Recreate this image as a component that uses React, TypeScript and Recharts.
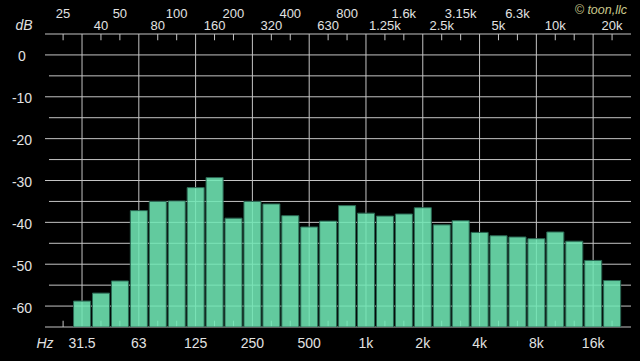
import React from 'react';
import { BarChart, Bar, XAxis, YAxis, ReferenceLine } from 'recharts';

// 1/3-octave bands, 25 Hz .. 20 kHz
const bands = ['25', '31.5', '40', '50', '63', '80', '100', '125', '160', '200', '250', '315', '400', '500', '630', '800',
  '1k', '1.25k', '1.6k', '2k', '2.5k', '3.15k', '4k', '5k', '6.3k', '8k', '10k', '12.5k', '16k', '20k'];

// level per band in dB (25 Hz is below the floor)
const levels: (number | null)[] = [null, -58.8, -56.9, -54.0, -37.2, -35.0, -34.9, -31.7, -29.3, -39.0, -35.0, -35.6, -38.4,
  -41.1, -39.7, -36.0, -37.8, -38.5, -38.0, -36.5, -40.6, -39.6, -42.4, -43.2, -43.5, -43.9, -42.3, -44.5, -49.1, -53.9];

// labels along the top, two staggered rows
const topRowA = ['25', '50', '100', '200', '400', '800', '1.6k', '3.15k', '6.3k'];
const topRowB = ['40', '80', '160', '320', '630', '1.25k', '2.5k', '5k', '10k', '20k'];
const topAlias: Record<string, string> = { '315': '320' };

// octave labels along the bottom (these also get full grid lines)
const octaves = ['31.5', '63', '125', '250', '500', '1k', '2k', '4k', '8k', '16k'];

const dbTicks = [0, -10, -20, -30, -40, -50, -60];
const dbHalf = [-5, -15, -25, -35, -45, -55];
const FLOOR = -65;
const CEIL = 5;

const data = bands.map((band, i) => ({
  i,
  band,
  level: levels[i],
}));

const topName = (b: string) => topAlias[b] || b;
const octaveIdx = octaves.map(o => bands.indexOf(o));
const topIdx = bands.map((b, i) => i).filter(i => topRowA.includes(topName(bands[i])) || topRowB.includes(topName(bands[i])));
const minorIdx = bands.map((b, i) => i).filter(i => !octaveIdx.includes(i));

const LINE = '#c4c4c4';
const TEXT = '#e2e2e2';
const FONT = '"Helvetica Neue", "Liberation Sans", Arial, sans-serif';
const X_MIN = -0.956;
const X_MAX = 30;

const TopTick = (props: any) => {
  const { x, y, payload } = props;
  const name = topName(bands[payload.value]);
  const rowA = topRowA.includes(name);
  return (
    <text x={x} y={rowA ? y - 16 : y - 4} textAnchor="middle" fill={TEXT} fontSize={13} fontFamily={FONT}>
      {name}
    </text>
  );
};

const BottomTick = (props: any) => {
  const { x, y, payload } = props;
  return (
    <text x={x} y={y + 21} textAnchor="middle" fill={TEXT} fontSize={14} fontFamily={FONT}>
      {bands[payload.value]}
    </text>
  );
};

const DbTick = (props: any) => {
  const { x, y, payload } = props;
  return (
    <text x={x - 23} y={y} dy="0.46em" textAnchor="middle" fill={TEXT} fontSize={14} fontFamily={FONT}>
      {payload.value}
    </text>
  );
};

export default function App() {
  return (
    <div style={{ position: 'absolute', left: 0, top: 0, width: 640, height: 361, background: '#000', overflow: 'hidden' }}>
      <BarChart width={640} height={361} data={data} margin={{ top: 0, right: 9, bottom: 0, left: 0 }}>
        <XAxis xAxisId="top" orientation="top" dataKey="i" type="number" domain={[X_MIN, X_MAX]} allowDataOverflow
          ticks={topIdx} interval={0} height={34} axisLine={false} tickLine={false} tickSize={0} tickMargin={0} tick={<TopTick />} />
        <XAxis xAxisId="bottom" orientation="bottom" dataKey="i" type="number" domain={[X_MIN, X_MAX]} allowDataOverflow
          ticks={octaveIdx} interval={0} height={34} axisLine={false} tickLine={false} tickSize={0} tickMargin={0} tick={<BottomTick />} />
        <YAxis type="number" domain={[FLOOR, CEIL]} allowDataOverflow ticks={dbTicks} interval={0} width={45}
          axisLine={false} tickLine={false} tickSize={0} tickMargin={0} tick={<DbTick />} />

        {dbTicks.concat([FLOOR, CEIL]).map(v => (
          <ReferenceLine key={'h' + v} xAxisId="bottom" y={v} stroke={LINE} strokeWidth={1} zIndex={100} />
        ))}
        {dbHalf.map(v => (
          <ReferenceLine key={'hh' + v} xAxisId="bottom" segment={[{ x: -0.745, y: v }, { x: X_MAX, y: v }]} stroke={LINE} strokeWidth={1} zIndex={100} />
        ))}
        {octaveIdx.map(i => (
          <ReferenceLine key={'v' + i} xAxisId="bottom" x={i} stroke={LINE} strokeWidth={1} zIndex={100} />
        ))}
        {minorIdx.map(i => (
          <ReferenceLine key={'tt' + i} xAxisId="bottom" segment={[{ x: i, y: CEIL }, { x: i, y: CEIL - 1.5 }]} stroke={LINE} strokeWidth={1} zIndex={100} />
        ))}
        {minorIdx.map(i => (
          <ReferenceLine key={'bt' + i} xAxisId="bottom" segment={[{ x: i, y: FLOOR }, { x: i, y: FLOOR + 1.5 }]} stroke={LINE} strokeWidth={1} zIndex={100} />
        ))}

        <Bar xAxisId="bottom" dataKey={(d: any) => (d.level == null ? null : [FLOOR, d.level])} barSize={19}
          fill="#70e8b6" fillOpacity={0.87} stroke="#2a6652" strokeWidth={1} isAnimationActive={false} />
      </BarChart>

      <svg width={640} height={361} style={{ position: 'absolute', left: 0, top: 0, pointerEvents: 'none' }}>
        <text x={24} y={30} textAnchor="middle" fill={TEXT} fontSize={14} fontStyle="italic" fontFamily={FONT}>dB</text>
        <text x={45} y={348} textAnchor="middle" fill={TEXT} fontSize={14} fontStyle="italic" fontFamily={FONT}>Hz</text>
        <text x={627} y={14} textAnchor="end" fill="#c9c98c" fontSize={12.5} fontStyle="italic" fontFamily={FONT}>© toon,llc</text>
      </svg>
    </div>
  );
}
